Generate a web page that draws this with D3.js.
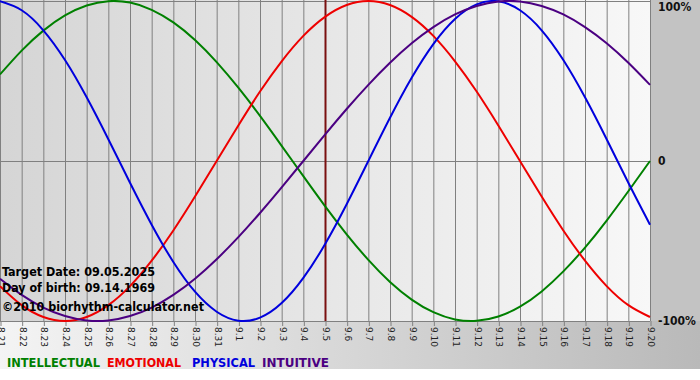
<!DOCTYPE html>
<html>
<head>
<meta charset="utf-8">
<script src="https://cdn.jsdelivr.net/npm/d3@7"></script>
<style>
  body { margin: 0; background: #fff; }
  svg { display: block; }
</style>
</head>
<body>
<script>
// days shown on the x axis (08.21 .. 09.20)
const days = ["8.21", "8.22", "8.23", "8.24", "8.25", "8.26", "8.27", "8.28", "8.29", "8.30", "8.31",
              "9.1", "9.2", "9.3", "9.4", "9.5", "9.6", "9.7", "9.8", "9.9", "9.10",
              "9.11", "9.12", "9.13", "9.14", "9.15", "9.16", "9.17", "9.18", "9.19", "9.20"];

// cycle values per day, -1 .. 1
const intellectual = [0.541, 0.690, 0.815, 0.910, 0.972, 0.999, 0.990, 0.945, 0.866, 0.756, 0.618,
                      0.458, 0.282, 0.095, -0.095, -0.282, -0.458, -0.618, -0.756, -0.866, -0.945,
                      -0.990, -0.999, -0.972, -0.910, -0.815, -0.690, -0.541, -0.372, -0.189, 0.000];
const emotional = [-0.782, -0.901, -0.975, -1.000, -0.975, -0.901, -0.782, -0.623, -0.434, -0.222, 0.000,
                   0.222, 0.434, 0.623, 0.782, 0.901, 0.975, 1.000, 0.975, 0.901, 0.782,
                   0.623, 0.434, 0.222, 0.000, -0.222, -0.434, -0.623, -0.782, -0.901, -0.975];
const physical = [0.998, 0.942, 0.817, 0.631, 0.398, 0.136, -0.136, -0.398, -0.631, -0.817, -0.942,
                  -0.998, -0.979, -0.888, -0.731, -0.520, -0.270, 0.000, 0.270, 0.520, 0.731,
                  0.888, 0.979, 0.998, 0.942, 0.817, 0.631, 0.398, 0.136, -0.136, -0.398];
const intuitive = [-0.736, -0.837, -0.916, -0.969, -0.997, -0.997, -0.969, -0.916, -0.837, -0.736, -0.614,
                   -0.476, -0.325, -0.165, 0.000, 0.165, 0.325, 0.476, 0.614, 0.736, 0.837,
                   0.916, 0.969, 0.997, 0.997, 0.969, 0.916, 0.837, 0.736, 0.614, 0.476];

const targetDay = "9.5";
const yTicks = [1, 0, -1];
const yTickLabels = ["100%", "0", "-100%"];
const infoLines = ["Target Date: 09.05.2025", "Day of birth: 09.14.1969", "©2010 biorhythm-calculator.net"];
const seriesNames = ["INTELLECTUAL", "EMOTIONAL", "PHYSICAL", "INTUITIVE"];

const width = 700, height = 380;
const plotW = 650, plotH = 321;
const font = "Tahoma, 'DejaVu Sans Condensed', 'DejaVu Sans', sans-serif";

const series = [
    { name: seriesNames[0], values: intellectual, color: "#008000" },
    { name: seriesNames[1], values: emotional, color: "#ee0000" },
    { name: seriesNames[2], values: physical, color: "#0000dd" },
    { name: seriesNames[3], values: intuitive, color: "#4b0082" }
];

const xScale = d3.scalePoint().domain(days).range([0, plotW]);
const yScale = d3.scaleLinear().domain([-1, 1]).range([plotH, 1]);

const svg = d3.select("body").append("svg")
    .attr("width", width)
    .attr("height", height);

const defs = svg.append("defs");
const plotGrad = defs.append("linearGradient").attr("id", "plotBg");
plotGrad.append("stop").attr("offset", "0%").attr("stop-color", "#d5d5d5");
plotGrad.append("stop").attr("offset", "100%").attr("stop-color", "#f8f8f8");
const footGrad = defs.append("linearGradient").attr("id", "footBg");
footGrad.append("stop").attr("offset", "0%").attr("stop-color", "#f4f4f4");
footGrad.append("stop").attr("offset", "100%").attr("stop-color", "#b9b9b9");

// backgrounds
svg.append("rect").attr("x", 0).attr("y", plotH).attr("width", width).attr("height", 48).attr("fill", "url(#footBg)");
svg.append("rect").attr("x", plotW).attr("y", 0).attr("width", width - plotW).attr("height", plotH).attr("fill", "#c3c3c3");
svg.append("rect").attr("x", 0).attr("y", 0).attr("width", plotW).attr("height", plotH).attr("fill", "url(#plotBg)");

// vertical grid + ticks
const xAxis = d3.axisBottom(xScale).tickSize(5).tickSizeOuter(0);
const gx = svg.append("g")
    .attr("transform", `translate(0.5, ${plotH})`)
    .call(xAxis);
gx.select(".domain").remove();
gx.selectAll("line").attr("stroke", "#808080");
gx.selectAll("text")
    .attr("transform", "rotate(90)")
    .attr("x", 6)
    .attr("y", 0)
    .attr("dy", "0.35em")
    .style("text-anchor", "start")
    .style("font-family", "'DejaVu Sans', sans-serif")
    .style("font-size", "9px")
    .attr("fill", "#222");

svg.append("g").selectAll("line")
    .data(days)
    .enter()
    .append("line")
    .attr("x1", d => xScale(d) + 0.5)
    .attr("x2", d => xScale(d) + 0.5)
    .attr("y1", 0)
    .attr("y2", plotH)
    .attr("stroke", "#808080");

// horizontal lines at 100%, 0, -100%
svg.append("g").selectAll("line")
    .data(yTicks)
    .enter()
    .append("line")
    .attr("x1", 0)
    .attr("x2", plotW)
    .attr("y1", d => Math.round(yScale(d)) + 0.5)
    .attr("y2", d => Math.round(yScale(d)) + 0.5)
    .attr("stroke", "#808080");

// y labels on the right
svg.append("g").selectAll("text")
    .data(yTicks)
    .enter()
    .append("text")
    .attr("x", 658)
    .attr("y", d => yScale(d))
    .attr("dy", (d, i) => i === 0 ? "0.85em" : "0.35em")
    .style("font-family", font)
    .style("font-size", "12px")
    .style("font-weight", "bold")
    .attr("fill", "#111")
    .text((d, i) => yTickLabels[i]);

// target day marker
svg.append("line")
    .attr("x1", xScale(targetDay) + 0.5)
    .attr("x2", xScale(targetDay) + 0.5)
    .attr("y1", 0)
    .attr("y2", plotH)
    .attr("stroke", "#7a1010")
    .attr("stroke-width", 2);

// curves
const line = d3.line()
    .x((d, i) => xScale(days[i]))
    .y(d => yScale(d))
    .curve(d3.curveNatural);

svg.append("g").selectAll("path")
    .data(series)
    .enter()
    .append("path")
    .attr("d", d => line(d.values))
    .attr("fill", "none")
    .attr("stroke", d => d.color)
    .attr("stroke-width", 2);

// info text
const infoY = [276, 292, 311];
const infoW = [153, 153, 202];
svg.append("g").selectAll("text")
    .data(infoLines)
    .enter()
    .append("text")
    .attr("x", 2)
    .attr("y", (d, i) => infoY[i])
    .attr("textLength", (d, i) => infoW[i])
    .attr("lengthAdjust", "spacingAndGlyphs")
    .style("font-family", font)
    .style("font-size", "12px")
    .style("font-weight", "bold")
    .attr("fill", "#000")
    .text(d => d);

// legend
const legendX = [7, 107, 192, 262];
const legendW = [93, 74, 63, 67];
svg.append("g").selectAll("text")
    .data(series)
    .enter()
    .append("text")
    .attr("x", (d, i) => legendX[i])
    .attr("y", 367)
    .attr("textLength", (d, i) => legendW[i])
    .attr("lengthAdjust", "spacingAndGlyphs")
    .style("font-family", font)
    .style("font-size", "12px")
    .style("font-weight", "bold")
    .attr("fill", d => d.color)
    .text(d => d.name);
</script>
</body>
</html>
